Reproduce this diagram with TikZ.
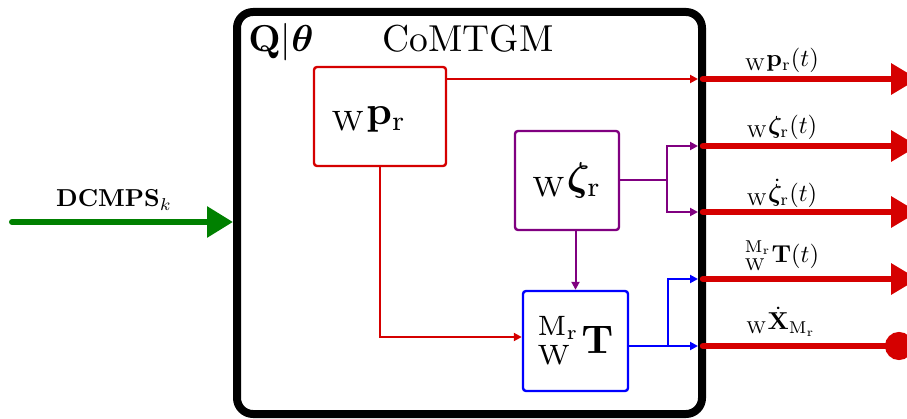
\RequirePackage{fix-cm}
\documentclass[tikz,border=0pt]{standalone}
\usepackage{amsmath,bm}
\usepackage{graphicx}
\usetikzlibrary{arrows.meta}
\definecolor{cred}{RGB}{213,0,0}
\definecolor{cpurple}{RGB}{128,0,128}
\definecolor{cblue}{RGB}{0,0,255}
\definecolor{cgreen}{RGB}{0,128,0}
\newcommand{\boxlab}[1]{\scalebox{4}{#1}}
\newcommand{\ttllab}[1]{\scalebox{3.75}{#1}}
\newcommand{\outlab}[1]{\scalebox{2.45}{#1}}
\begin{document}
\begin{tikzpicture}[x=1pt,y=-1pt,
  blk/.style={draw, line width=2.4pt, rounded corners=3pt, inner sep=0pt},
  txt/.style={font=\normalsize, inner sep=0pt, anchor=base},
  thinarr/.style={line width=2pt, -{Triangle[length=8pt,width=8pt]}},
  outarr/.style={cred, line width=6.5pt, line cap=round, -{Triangle[length=27pt,width=30pt]}},
  outdot/.style={cred, line width=6.5pt, line cap=round, -{Circle[length=28pt]}}]
\path[use as bounding box] (0,0) rectangle (907,419);
\clip (0,0) rectangle (907,419);

% outer block
\node[draw, line width=8pt, rounded corners=16pt, minimum width=465pt, minimum height=402pt, inner sep=0pt] (cm) at (469.5,213) {};
\node[txt] (qt) at (281,52) {\ttllab{$\mathbf{Q}|\boldsymbol{\theta}$}};
\node[txt] (ti) at (468,52) {\ttllab{CoMTGM}};

% inner blocks
\node[blk, cred, minimum width=132pt, minimum height=99pt] (wp) at (380,116.5) {};
\node[txt] (wpl) at (369,125) {\boxlab{${}_{\mathrm{W}}\mathbf{p}_{\mathrm{r}}$}};
\node[blk, cpurple, minimum width=104pt, minimum height=99pt] (zr) at (567,180.5) {};
\node[txt] (zrl) at (567,191) {\boxlab{${}_{\mathrm{W}}\boldsymbol{\zeta}_{\mathrm{r}}$}};
\node[blk, cblue, minimum width=105pt, minimum height=100pt] (mt) at (575.5,341) {};
\node[txt] (mtl) at (575.5,353) {\boxlab{${}^{\mathrm{M_r}}_{\mathrm{W}}\mathbf{T}$}};

% port coordinates
\coordinate (pin1) at (698,79);
\coordinate (pin2) at (698,146);
\coordinate (pin3) at (698,212);
\coordinate (pin4) at (698,279);
\coordinate (pin5) at (698,346);
\coordinate (out1) at (703,79);
\coordinate (out2) at (703,146);
\coordinate (out3) at (703,212);
\coordinate (out4) at (703,279);
\coordinate (out5) at (703,346);
\coordinate (end1) at (918,79);
\coordinate (end2) at (918,146);
\coordinate (end3) at (918,212);
\coordinate (end4) at (918,279);
\coordinate (end5) at (913,346);
\coordinate (jz) at (667,180.5);
\coordinate (jt) at (668,346);

% internal connectors
\draw[thinarr, cred] (wp.east |- pin1) -- (pin1);
\draw[thinarr, cpurple] (zr.east) -- (jz) |- (pin2);
\draw[thinarr, cpurple] (jz) |- (pin3);
\draw[thinarr, cpurple] (zr.south -| mt.north) -- (mt.north);
\draw[thinarr, cred] (wp.south) |- ([yshift=4pt]mt.west);
\draw[thinarr, cblue] (mt.east |- pin5) -- (pin5);
\draw[thinarr, cblue] (jt) |- (pin4);

% outputs
\draw[outarr] (out1) -- (end1);
\draw[outarr] (out2) -- (end2);
\draw[outarr] (out3) -- (end3);
\draw[outarr] (out4) -- (end4);
\draw[outdot] (out5) -- (end5);
\node[txt] (l1) at (782,66.5) {\outlab{${}_{\mathrm{W}}\mathbf{p}_{\mathrm{r}}(t)$}};
\node[txt] (l2) at (782,133.5) {\outlab{${}_{\mathrm{W}}\boldsymbol{\zeta}_{\mathrm{r}}(t)$}};
\node[txt] (l3) at (782,201.5) {\outlab{${}_{\mathrm{W}}\dot{\boldsymbol{\zeta}}_{\mathrm{r}}(t)$}};
\node[txt] (l4) at (782,263) {\outlab{${}^{\mathrm{M_r}}_{\mathrm{W}}\mathbf{T}(t)$}};
\node[txt] (l5) at (781,330) {\outlab{${}_{\mathrm{W}}\dot{\mathbf{X}}_{\mathrm{M_r}}$}};

% input
\coordinate (gin) at (12,222);
\coordinate (gend) at (233,222);
\draw[cgreen, line width=6pt, line cap=round, -{Triangle[length=26pt,width=30pt]}] (gin) -- (gend);
\node[txt] (dl) at (114,207) {\outlab{$\mathbf{DCMPS}_k$}};
\end{tikzpicture}
\end{document}
